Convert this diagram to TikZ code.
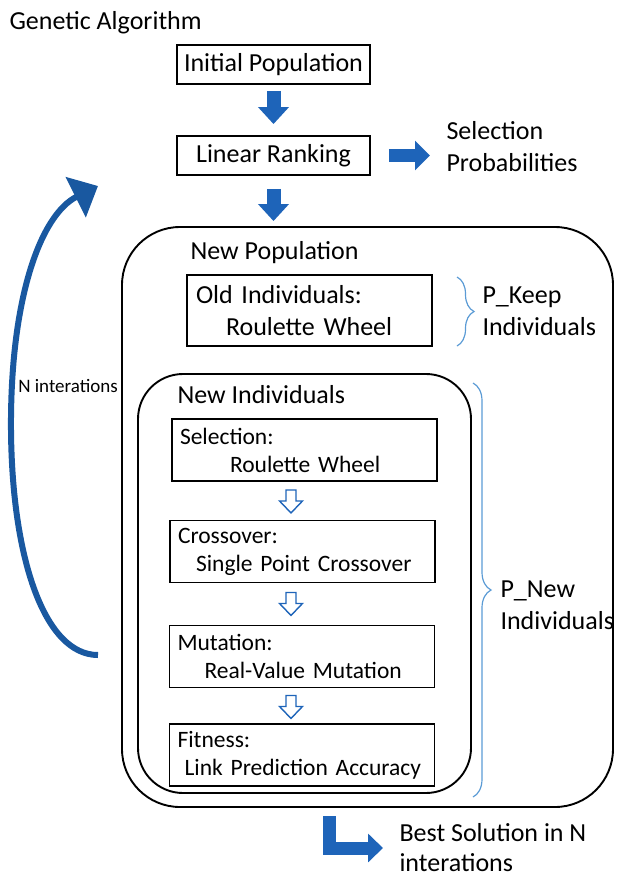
\documentclass[tikz,border=0pt]{standalone}
\usepackage{fontspec}
\setmainfont{Carlito}
\usepackage{tikz}
\usetikzlibrary{arrows.meta,positioning,decorations.pathreplacing}

\definecolor{arrowblue}{RGB}{30,100,185}
\definecolor{loopblue}{RGB}{25,88,160}
\definecolor{braceblue}{RGB}{91,155,213}

\begin{document}
\begin{tikzpicture}[x=1pt,y=-1pt,
  bigtext/.style={font=\fontsize{26}{32}\selectfont},
  smalltext/.style={font=\fontsize{23.5}{28}\selectfont},
  stepbox/.style={draw,line width=1.9pt,inner sep=0pt},
  listbox/.style={stepbox,smalltext,align=left,inner xsep=8pt,text width=249pt,
    minimum height=62pt},
  groupbox/.style={draw,line width=1.9pt,rounded corners=#1},
  blockarrow/.style={arrowblue,line width=14pt,-{Triangle[width=30pt,length=17pt]}},
  hollowarrow/.pic={\draw[arrowblue,line width=1.4pt,fill=white,line join=miter]
    (-5,0) -- (-5,11) -- (-11.5,11) -- (0,23) -- (11.5,11) -- (5,11) -- (5,0) -- cycle;},
  sidebrace/.style={braceblue,line width=1.2pt,decorate,
    decoration={brace,amplitude=#1,aspect=0.5}},
]
\useasboundingbox (0,0) rectangle (618,879);

% title and top of the flow
\node[bigtext,anchor=west] (title) at (6,23) {Genetic Algorithm};
\node[stepbox,bigtext,minimum width=193pt,minimum height=39pt] (ip) at (273.5,64.5) {Initial Population};
\node[stepbox,bigtext,minimum width=193pt,minimum height=39pt] (lr) at (273.5,155.5) {Linear Ranking};
\node[bigtext,align=left,anchor=west] (selprob) at (443,147) {Selection\\Probabilities};

\draw[blockarrow,shorten <=6pt,shorten >=11pt] (ip.south) -- (lr.north);
\draw[blockarrow,line width=13pt,-{Triangle[width=29pt,length=15pt]},
  shorten <=18pt,shorten >=13pt] (lr.east) -- (lr.east -| selprob.west);

% population boxes
\node[groupbox=58pt,minimum width=491pt,minimum height=580pt] (newpop) at (367.5,517) {};
\node[groupbox=45pt,minimum width=333pt,minimum height=419pt] (newind) at (304.5,583.5) {};
\draw[blockarrow,shorten <=13pt,shorten >=5pt] (lr.south) -- (lr.south |- newpop.north);

\node[bigtext,anchor=west] (poplabel) at (187,253) {New Population};
\node[stepbox,bigtext,align=left,inner xsep=9pt,text width=227pt,minimum height=71pt]
  (oldind) at (309.5,310.5) {Old Individuals:\\\hspace*{30pt}Roulette Wheel};
\node[bigtext,anchor=west] (indlabel) at (174,395) {New Individuals};

\node[listbox] (sel) at (304.5,450) {Selection:\\\hspace*{50pt}Roulette Wheel};
\node[listbox] (cross) at (302.5,551.5) {Crossover:\\\hspace*{18pt}Single Point Crossover};
\node[listbox] (mut) at (302,656.5) {Mutation:\\\hspace*{27pt}Real-Value Mutation};
\node[listbox] (fit) at (302,755) {Fitness:\\\hspace*{7pt}Link Prediction Accuracy};

\pic at ([xshift=-13.5pt,yshift=-8pt]sel.south) {hollowarrow};
\pic at ([xshift=-11.5pt,yshift=-9pt]cross.south) {hollowarrow};
\pic at ([xshift=-11pt,yshift=-7pt]mut.south) {hollowarrow};

% braces on the right
\coordinate (keeptop) at (457,277);
\coordinate (keepbot) at (457,346);
\draw[sidebrace=17pt] (keeptop) -- (keepbot);
\node[bigtext,align=left,anchor=west] (pkeep) at (479,311) {P\_Keep\\Individuals};
\coordinate (newtop) at (473,383);
\coordinate (newbot) at (473,797);
\draw[sidebrace=18pt] (newtop) -- (newbot);
\node[bigtext,align=left,anchor=west] (pnew) at (497,605) {P\_New\\Individuals};

% loop back
\coordinate (loopend) at (98,655);
\coordinate (looptip) at (98,186);
\draw[loopblue,line width=6pt,-{Triangle[width=44pt,length=25pt]}]
  (loopend) .. controls (45,655) and (12,560) .. (11,430)
  .. controls (10,300) and (40,215) .. (looptip);
\node[font=\fontsize{19}{23}\selectfont,anchor=east,inner sep=1pt] (niter) at (119,386) {N interations};

% result
\node[bigtext,align=left,anchor=west,font=\fontsize{26}{30}\selectfont] (best) at (396,848) {Best Solution in N\\interations};
\coordinate (bestfrom) at (329.5,816);
\draw[blockarrow,line width=13pt,line join=miter,-{Triangle[width=28pt,length=15pt]},
  shorten >=13pt] (bestfrom) |- (best.west);
\end{tikzpicture}
\end{document}
